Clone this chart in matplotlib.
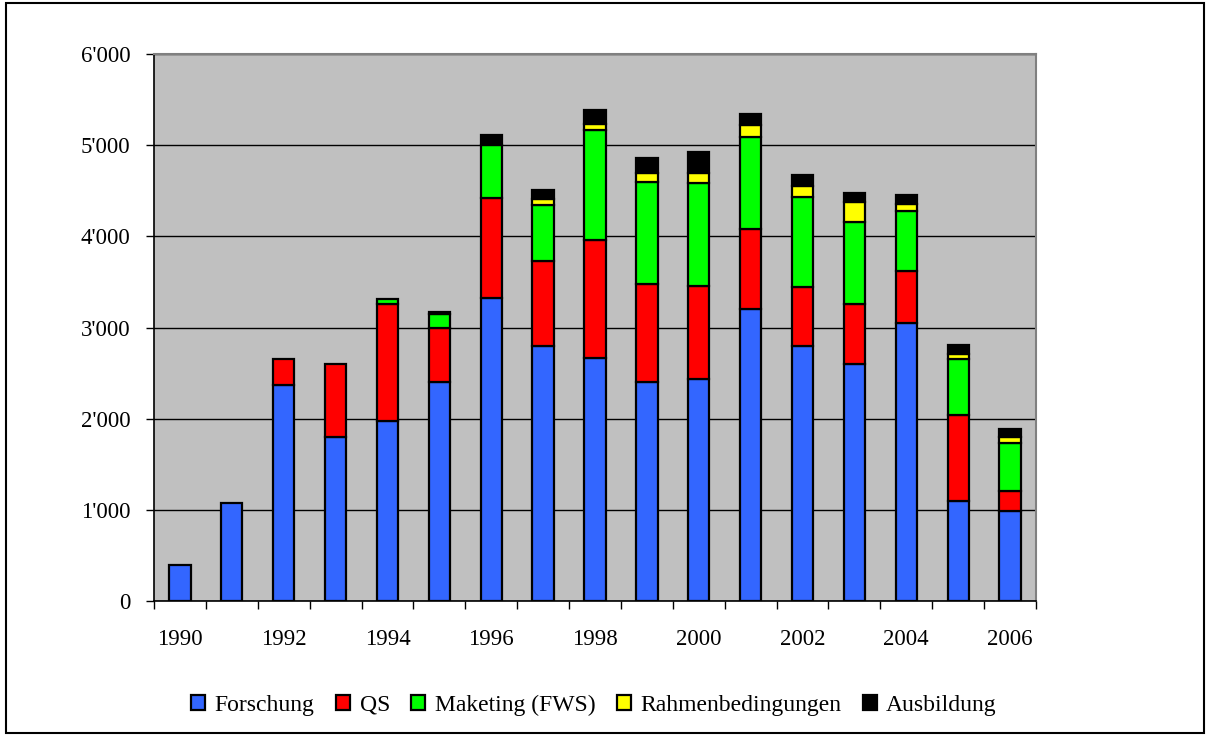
import matplotlib
matplotlib.use("Agg")
import matplotlib.pyplot as plt
import numpy as np
from matplotlib.patches import Rectangle
from matplotlib.ticker import FuncFormatter

years = list(range(1990, 2007))
forschung = [400, 1080, 2370, 1800, 1970, 2400, 3320, 2800, 2670, 2400, 2430, 3200, 2800, 2600, 3050, 1100, 990]
qs = [0, 0, 280, 800, 1290, 600, 1105, 930, 1295, 1080, 1025, 880, 640, 660, 575, 935, 215]
marketing = [0, 0, 0, 0, 50, 145, 580, 615, 1205, 1120, 1125, 1005, 990, 900, 655, 615, 530]
rahmen = [0, 0, 0, 0, 0, 0, 0, 65, 60, 100, 110, 140, 120, 220, 80, 60, 60]
ausbildung = [0, 0, 0, 0, 0, 25, 110, 95, 155, 155, 230, 120, 120, 100, 90, 95, 90]

series_names = ["Forschung", "QS", "Maketing (FWS)", "Rahmenbedingungen", "Ausbildung"]
series = [forschung, qs, marketing, rahmen, ausbildung]
colors = ["#3366FF", "#FF0000", "#00FF00", "#FFFF00", "#000000"]
yticks = [0, 1000, 2000, 3000, 4000, 5000, 6000]

plt.rcParams['font.family'] = ['Liberation Serif', 'DejaVu Serif']

W, H = 1208, 736
fig = plt.figure(figsize=(W / 100, H / 100), dpi=100)
fig.patches.append(Rectangle((6 / W, 3 / H), (W - 10) / W, (H - 6) / H, transform=fig.transFigure,
                             fill=False, edgecolor='black', linewidth=1.5))

left, right, top, bottom = 154, 1036, 54, 601
ax = fig.add_axes([left / W, 1 - bottom / H, (right - left) / W, (bottom - top) / H])
ax.set_facecolor('#C0C0C0')

x = np.arange(len(years))
base = np.zeros(len(years))
handles = []
for name, vals, c in zip(series_names, series, colors):
    vals = np.array(vals, dtype=float)
    lws = [1.6 if v > 0 else 0 for v in vals]
    b = ax.bar(x, vals, width=0.41, bottom=base, color=c, edgecolor='black', linewidth=lws,
               label=name, zorder=3)
    handles.append(b)
    base += vals

ax.set_xlim(-0.5, len(years) - 0.5)
ax.set_ylim(0, 6000)
ax.set_yticks(yticks)
ax.yaxis.set_major_formatter(FuncFormatter(lambda v, p: "0" if v == 0 else f"{int(v)//1000}'{int(v)%1000:03d}"))
ax.grid(axis='y', color='black', linewidth=1.0, zorder=1)
ax.set_axisbelow(True)

ax.set_xticks(np.arange(-0.5, len(years), 1.0))
ax.set_xticklabels([])
ax.set_xticks(x, minor=True)
ax.set_xticklabels([str(y) if y % 2 == 0 else "" for y in years], minor=True)
ax.tick_params(axis='x', which='minor', length=0, pad=20, labelsize=16.5)
ax.tick_params(axis='x', which='major', length=6, direction='out', width=1)
ax.tick_params(axis='y', length=6, direction='out', width=1, labelsize=16.5, pad=11)

for s in ['left', 'bottom']:
    ax.spines[s].set_color('black')
    ax.spines[s].set_linewidth(1.2)
for s in ['top', 'right']:
    ax.spines[s].set_color('#808080')
    ax.spines[s].set_linewidth(1.5)

leg_handles = [Rectangle((0, 0), 1, 1, facecolor=c, edgecolor='black', linewidth=1.6) for c in colors]
fig.legend(handles=leg_handles, labels=series_names, loc='center', bbox_to_anchor=(594 / W, 1 - 705 / H),
           ncol=5, frameon=False, fontsize=17, handlelength=0.6, handleheight=0.6,
           handletextpad=0.4, columnspacing=0.9)

fig.savefig("out.png", dpi=100)
